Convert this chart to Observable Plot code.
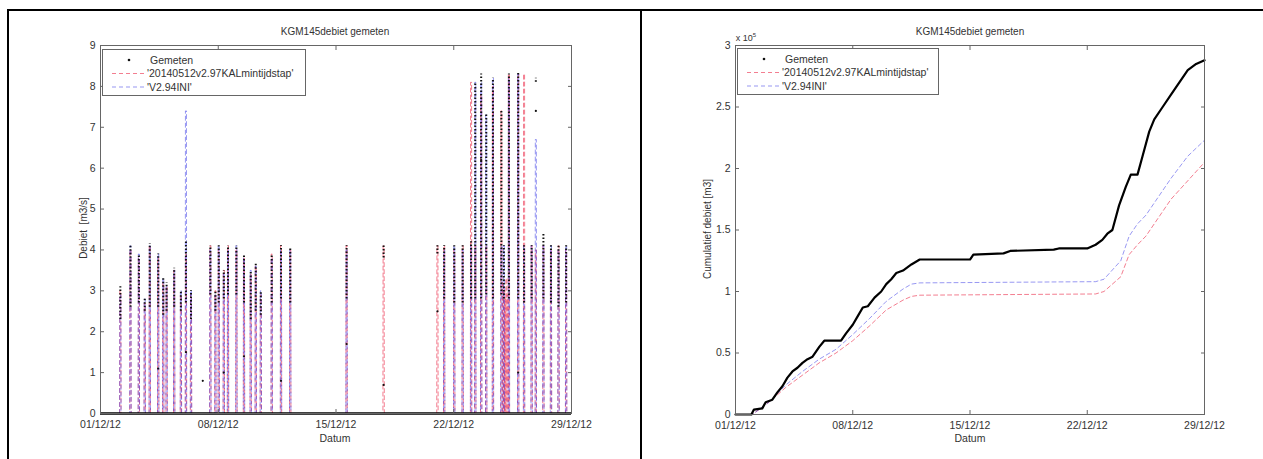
<!DOCTYPE html>
<html><head><meta charset="utf-8">
<script src="https://cdn.jsdelivr.net/npm/d3@7"></script>
<script src="https://cdn.jsdelivr.net/npm/@observablehq/plot@0.6"></script>
<style>
body{margin:0;background:#fff;font-family:"Liberation Sans",Arial,sans-serif;}
#root{position:relative;width:1263px;height:459px;overflow:hidden;background:#fff;}
.bl{position:absolute;background:#000;}
.t{position:absolute;white-space:nowrap;color:#333;transform:translate(-50%,-50%);z-index:2;}
.yl{position:absolute;white-space:nowrap;color:#333;transform:translate(-50%,-50%) rotate(-90deg);z-index:2;font-size:10px;}
.plot{position:absolute;top:0;}
.leg{position:absolute;z-index:3;border:1px solid #666;background:#fff;box-sizing:border-box;}
.leg text{font-family:"Liberation Sans",Arial,sans-serif;font-size:10.5px;fill:#333;}
</style></head>
<body><div id="root">
<div class="bl" style="left:7px;top:9px;width:1256px;height:2px"></div>
<div class="bl" style="left:7px;top:9px;width:2px;height:450px"></div>
<div class="bl" style="left:640px;top:9px;width:2px;height:450px"></div>
<div id="left" class="plot" style="left:0"></div>
<div id="right" class="plot" style="left:640px"></div>
<div class="t" style="left:335px;top:31px;font-size:10px">KGM145debiet gemeten</div>
<div class="t" style="left:970px;top:31px;font-size:10px">KGM145debiet gemeten</div>
<div class="t" style="left:335px;top:438px;font-size:10.5px">Datum</div>
<div class="t" style="left:970px;top:438px;font-size:10.5px">Datum</div>
<div class="yl" style="left:83px;top:228px">Debiet&nbsp; [m3/s]</div>
<div class="yl" style="left:707px;top:229px">Cumulatief debiet [m3]</div>
<div class="t" style="left:746px;top:37px;font-size:9px">x 10<sup style="font-size:6px">5</sup></div>
<div id="leg1" class="leg" style="left:102px;top:49px;width:204px;height:47px"></div>
<div id="leg2" class="leg" style="left:737px;top:48px;width:202px;height:47px"></div>
</div>
<script>
// ---------- data: left chart (debiet, m3/s) ----------
const tickDates = ["2012-12-01","2012-12-08","2012-12-15","2012-12-22","2012-12-29"];
const tickLabelsLeftY = [0,1,2,3,4,5,6,7,8,9];
const tickLabelsRightY = [0,0.5,1,1.5,2,2.5,3];

// measured pump events: day offset from 01/12/12, low and high of the dot column
const gemetenDag   = [1.15,1.75,2.25,2.6,2.9,3.4,3.7,3.9,4.35,4.75,5.05,5.35,6.5,6.8,7.0,7.3,7.55,8.05,8.5,8.9,9.2,9.5,10.15,10.7,11.25,14.6,16.8,20.0,20.4,21.0,21.5,22.0,22.25,22.6,22.9,23.3,23.8,23.95,24.25,24.8,25.15,25.6,25.85,26.3,26.75,27.2,27.65];
const gemetenLaag  = [2.3,2.6,2.7,2.5,2.6,2.6,2.4,2.5,2.6,2.5,2.7,2.3,2.9,2.5,2.7,2.8,2.9,2.9,2.7,2.3,2.5,2.4,2.7,2.8,2.7,2.8,3.8,3.9,2.8,2.7,2.7,2.8,2.8,2.8,2.9,2.8,2.9,2.8,2.8,2.8,2.7,2.8,8.1,2.8,2.7,2.6,2.7];
const gemetenHoog  = [3.1,4.1,3.9,2.8,4.15,3.9,3.3,3.2,3.55,3.0,4.2,3.0,4.1,3.0,4.1,3.5,4.1,4.1,3.85,3.5,3.65,3.0,3.9,4.1,4.05,4.1,4.1,4.1,4.1,4.1,4.1,4.2,8.1,8.3,7.3,8.2,7.4,4.1,8.3,8.35,4.1,4.1,8.2,4.4,4.1,4.1,4.1];
// isolated measured points
const gemetenLosDag    = [3.4,5.05,6.05,7.3,8.5,10.7,14.6,16.8,20.0,24.8,25.85,22.6];
const gemetenLosWaarde = [1.1,1.5,0.8,1.0,1.4,0.8,1.7,0.7,2.5,1.0,7.4,6.2];

// model '20140512v2.97KALmintijdstap' (red) peaks
const kalDag  = [1.15,1.75,2.25,2.6,2.9,3.4,3.7,3.9,4.35,4.75,5.05,5.35,6.5,6.8,7.0,7.3,7.55,8.05,8.5,8.9,9.2,9.5,10.15,10.7,11.25,14.6,16.8,20.0,20.4,21.0,21.5,22.0,22.25,22.6,22.9,23.3,23.8,23.9,23.97,24.03,24.1,24.17,24.25,24.8,25.15,25.6,25.85,26.3,26.75,27.2,27.65];
const kalPiek = [3.0,4.0,3.8,2.7,4.1,3.8,3.2,3.1,3.5,2.9,3.9,2.9,4.1,3.0,4.0,3.5,4.1,4.0,3.8,3.4,3.6,2.9,3.9,4.1,4.0,4.1,4.1,4.1,4.1,4.0,4.1,8.1,4.1,7.8,4.1,8.0,7.4,3.2,3.0,2.8,3.3,2.9,8.3,8.3,8.3,4.1,4.0,4.1,4.0,4.1,4.0];
// model 'V2.94INI' (blue) peaks
const iniDag  = [1.15,1.75,2.25,2.6,2.9,3.4,3.7,3.9,4.35,4.75,5.05,5.35,6.5,6.8,7.0,7.3,7.55,8.05,8.5,8.9,9.2,9.5,10.15,10.7,11.25,14.6,20.4,21.0,21.5,22.0,22.25,22.6,22.9,23.3,23.8,23.95,24.25,24.8,25.15,25.6,25.85,26.3,26.75,27.2,27.65];
const iniPiek = [2.9,4.1,3.9,2.8,4.1,3.9,3.3,3.1,3.5,3.0,7.4,3.0,4.0,2.9,4.1,3.4,4.0,4.1,3.8,3.5,3.6,3.0,3.8,4.0,4.0,4.0,4.0,4.1,4.0,4.1,8.1,8.1,7.3,8.2,4.1,4.1,8.2,8.3,4.1,4.1,6.7,4.1,4.1,4.0,4.1];

// ---------- data: right chart (cumulatief debiet, x 10^5 m3) ----------
const cumGemetenDag = [0,0.95,1.1,1.6,1.8,2.2,2.5,2.8,3.1,3.4,3.7,4.0,4.3,4.6,5.0,5.3,6.3,6.6,7.0,7.3,7.6,7.9,8.3,8.7,9.0,9.3,9.6,10.0,10.5,11.0,14.0,14.2,16.0,16.4,19.0,19.3,21.0,21.5,21.9,22.2,22.5,22.9,23.3,23.6,24.0,24.3,24.7,25.0,25.5,26.0,26.5,27.0,27.5,28.0];
const cumGemeten    = [0,0,0.04,0.05,0.1,0.12,0.18,0.23,0.3,0.35,0.38,0.42,0.45,0.47,0.55,0.6,0.6,0.66,0.73,0.8,0.87,0.88,0.95,1.0,1.06,1.1,1.15,1.17,1.22,1.26,1.26,1.3,1.31,1.33,1.34,1.35,1.35,1.38,1.42,1.47,1.5,1.7,1.85,1.95,1.95,2.1,2.3,2.4,2.5,2.6,2.7,2.8,2.85,2.88];
const cumKalDag = [0,1,2,3,4,5,6,7,8,9,10,10.5,11,21.5,22,23,23.5,24,24.5,25,26,27,28];
const cumKal    = [0,0,0.1,0.22,0.32,0.42,0.5,0.6,0.72,0.85,0.93,0.96,0.97,0.98,1.0,1.12,1.3,1.38,1.45,1.55,1.75,1.9,2.05];
const cumIniDag = [0,1,2,3,4,5,6,7,8,9,10,10.5,11,21.5,22,23,23.5,24,24.5,25,26,27,28];
const cumIni    = [0,0,0.1,0.24,0.35,0.45,0.53,0.65,0.78,0.92,1.02,1.06,1.07,1.08,1.1,1.25,1.45,1.55,1.62,1.72,1.92,2.1,2.23];

// ---------- helpers ----------
const t0 = Date.UTC(2012, 11, 1);
const dt = d => new Date(t0 + d * 864e5);
const ticks = tickDates.map(s => new Date(s + "T00:00:00Z"));
const fmt = d3.utcFormat("%d/%m/%y");
const RED = "rgb(235,40,70)", BLUE = "rgb(50,50,230)";

function spikes(days, peaks) {
  const out = [];
  days.forEach((d, i) => {
    out.push({t: dt(d - 0.01), v: 0}, {t: dt(d), v: peaks[i]}, {t: dt(d + 0.06), v: peaks[i]}, {t: dt(d + 0.07), v: 0});
  });
  return out;
}
function boxAxes(yTicks, yFmt) {
  const none = () => "";
  return [
    Plot.frame({stroke: "#666"}),
    Plot.axisX({ticks, tickSize: 0, tickPadding: 7, tickFormat: fmt, label: null, fontSize: 10.5, fill: "#333"}),
    Plot.axisX({ticks, tickSize: 4, dy: -4, tickFormat: none, label: null, stroke: "#666"}),
    Plot.axisX({anchor: "top", ticks, tickSize: 4, dy: 4, tickFormat: none, label: null, stroke: "#666"}),
    Plot.axisY({ticks: yTicks, tickSize: 0, tickPadding: 5, tickFormat: yFmt, label: null, fontSize: 10.5, fill: "#333"}),
    Plot.axisY({ticks: yTicks, tickSize: 4, dx: 4, tickFormat: none, label: null, stroke: "#666"}),
    Plot.axisY({anchor: "right", ticks: yTicks, tickSize: 4, dx: -4, tickFormat: none, label: null, stroke: "#666"})
  ];
}

// ---------- left chart ----------
const idx = d3.range(gemetenDag.length);
const losIdx = d3.range(gemetenLosDag.length);
const left = Plot.plot({
  width: 640, height: 459,
  marginLeft: 100, marginRight: 69, marginTop: 45, marginBottom: 46,
  style: {fontFamily: "Liberation Sans, Arial, sans-serif", background: "transparent", overflow: "visible"},
  x: {type: "utc", domain: [ticks[0], ticks[4]]},
  y: {domain: [0, 9]},
  marks: [
    Plot.line(spikes(kalDag, kalPiek), {x: "t", y: "v", stroke: RED, strokeOpacity: 0.6, strokeWidth: 1, strokeDasharray: "4,3"}),
    Plot.line(spikes(iniDag, iniPiek), {x: "t", y: "v", stroke: BLUE, strokeOpacity: 0.5, strokeWidth: 1, strokeDasharray: "4,3"}),
    Plot.ruleX(idx, {x: i => dt(gemetenDag[i] + 0.03), y1: i => gemetenLaag[i], y2: i => gemetenHoog[i], stroke: "#111", strokeWidth: 2, strokeDasharray: "1.5,2"}),
    Plot.dot(losIdx, {x: i => dt(gemetenLosDag[i] + 0.03), y: i => gemetenLosWaarde[i], r: 1.1, fill: "#111", stroke: "none"}),
    Plot.ruleY([0], {stroke: "#000", strokeWidth: 2.5}),
    ...boxAxes(tickLabelsLeftY, d => String(d))
  ]
});
document.getElementById("left").append(left);

// ---------- right chart ----------
const zIdx = d3.range(cumGemetenDag.length);
const kIdx = d3.range(cumKalDag.length);
const iIdx = d3.range(cumIniDag.length);
const right = Plot.plot({
  width: 623, height: 459,
  marginLeft: 95, marginRight: 59, marginTop: 45, marginBottom: 45,
  style: {fontFamily: "Liberation Sans, Arial, sans-serif", background: "transparent", overflow: "visible"},
  x: {type: "utc", domain: [ticks[0], ticks[4]]},
  y: {domain: [0, 3]},
  marks: [
    Plot.line(kIdx, {x: i => dt(cumKalDag[i]), y: i => cumKal[i], stroke: RED, strokeOpacity: 0.6, strokeWidth: 1, strokeDasharray: "4,3"}),
    Plot.line(iIdx, {x: i => dt(cumIniDag[i]), y: i => cumIni[i], stroke: BLUE, strokeOpacity: 0.5, strokeWidth: 1, strokeDasharray: "4,3"}),
    Plot.line(zIdx, {x: i => dt(cumGemetenDag[i]), y: i => cumGemeten[i], stroke: "#000", strokeWidth: 2.2}),
    ...boxAxes(tickLabelsRightY, d => String(d))
  ]
});
document.getElementById("right").append(right);

// ---------- legends ----------
const legendLabels = ["Gemeten", "'20140512v2.97KALmintijdstap'", "'V2.94INI'"];
function legend(id, w) {
  const svg = d3.select("#" + id).append("svg").attr("width", w - 2).attr("height", 45);
  const rows = [10, 23.5, 37];
  svg.append("circle").attr("cx", 26).attr("cy", rows[0]).attr("r", 1.3).attr("fill", "#111");
  [[RED, 0.6], [BLUE, 0.5]].forEach(([c, o], k) => {
    svg.append("line").attr("x1", 9).attr("x2", 44).attr("y1", rows[k + 1]).attr("y2", rows[k + 1])
      .attr("stroke", c).attr("stroke-opacity", o).attr("stroke-dasharray", "4,3");
  });
  legendLabels.forEach((s, k) => {
    svg.append("text").attr("x", k === 0 ? 47 : 44).attr("y", rows[k] + 3.8).text(s);
  });
}
legend("leg1", 204);
legend("leg2", 202);
</script>
</body></html>
